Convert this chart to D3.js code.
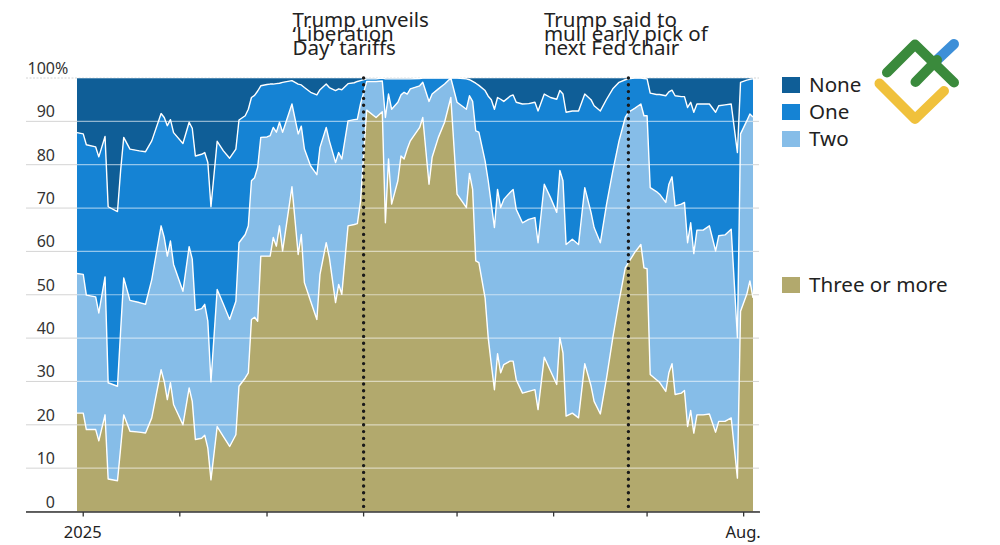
<!DOCTYPE html>
<html>
<head>
<meta charset="utf-8">
<script src="https://cdn.jsdelivr.net/npm/d3@7"></script>
<style>
  html, body { margin: 0; padding: 0; background: #fff; }
  svg { display: block; font-family: "Noto Sans", "Open Sans", sans-serif; }
</style>
</head>
<body>
<svg id="chart" width="1000" height="545"></svg>
<script>
// ---- Data (probability of number of Fed rate cuts by year-end, %) ----
const dates = [
  "2024-12-30","2025-01-01","2025-01-02","2025-01-05","2025-01-06","2025-01-08","2025-01-09","2025-01-12","2025-01-13","2025-01-14",
  "2025-01-16","2025-01-19","2025-01-21","2025-01-23","2025-01-26","2025-01-27","2025-01-28","2025-01-29","2025-01-30","2025-02-02",
  "2025-02-04","2025-02-05","2025-02-06","2025-02-08","2025-02-09","2025-02-10","2025-02-11","2025-02-13","2025-02-15","2025-02-17",
  "2025-02-19","2025-02-20","2025-02-22","2025-02-23","2025-02-24","2025-02-25","2025-02-26","2025-02-27","2025-03-01","2025-03-02",
  "2025-03-03","2025-03-04","2025-03-05","2025-03-06","2025-03-09","2025-03-11","2025-03-12","2025-03-13","2025-03-15","2025-03-17",
  "2025-03-18","2025-03-20","2025-03-21","2025-03-23","2025-03-24","2025-03-25","2025-03-27","2025-03-29","2025-03-30","2025-03-31",
  "2025-04-02","2025-04-05","2025-04-07","2025-04-08","2025-04-09","2025-04-10","2025-04-12","2025-04-13","2025-04-14","2025-04-15",
  "2025-04-16","2025-04-19","2025-04-20","2025-04-22","2025-04-23","2025-04-25","2025-04-27","2025-04-29","2025-05-01","2025-05-04",
  "2025-05-05","2025-05-06","2025-05-07","2025-05-08","2025-05-10","2025-05-11","2025-05-12","2025-05-13","2025-05-14","2025-05-15",
  "2025-05-16","2025-05-18","2025-05-19","2025-05-20","2025-05-22","2025-05-24","2025-05-26","2025-05-27","2025-05-29","2025-05-31",
  "2025-06-02","2025-06-03","2025-06-04","2025-06-05","2025-06-07","2025-06-09","2025-06-11","2025-06-13","2025-06-14","2025-06-16",
  "2025-06-18","2025-06-20","2025-06-22","2025-06-24","2025-06-25","2025-06-27","2025-06-29","2025-06-30","2025-07-01","2025-07-02",
  "2025-07-04","2025-07-05","2025-07-07","2025-07-08","2025-07-09","2025-07-10","2025-07-12","2025-07-13","2025-07-14","2025-07-15",
  "2025-07-16","2025-07-17","2025-07-19","2025-07-21","2025-07-23","2025-07-24","2025-07-26","2025-07-28","2025-07-30","2025-07-31",
  "2025-08-02","2025-08-03","2025-08-04"
];
const threeOrMore = [
  22.7,22.7,18.9,18.9,16.3,22.3,7.5,7.1,14.6,22.3,
  18.5,18.3,18.1,21.6,32.7,30.0,25.8,29.7,24.7,20.0,
  28.5,25.4,16.6,16.9,17.6,14.6,7.3,19.6,17.3,15.0,
  17.7,28.9,30.8,32.0,44.3,44.8,43.9,58.9,58.9,58.9,
  63.2,61.2,65.9,60.1,74.9,59.3,63.9,52.8,48.5,44.3,
  54.7,62.0,58.6,48.2,52.4,50.1,65.9,66.2,66.4,71.5,
  92.6,90.9,92.2,66.6,81.3,70.9,76.3,82.0,81.3,83.6,
  85.5,88.6,90.9,75.5,81.7,86.3,89.8,95.5,73.2,70.1,
  78.0,74.3,57.8,57.4,49.3,40.1,33.9,28.1,36.4,32.0,
  33.9,34.7,34.7,30.4,27.3,27.7,28.1,23.5,35.6,32.4,
  29.3,40.1,36.6,22.0,22.7,21.6,34.1,29.0,25.4,22.5,
  30.8,40.1,48.5,56.2,57.4,59.7,61.6,56.2,56.0,31.6,
  30.4,29.8,27.7,32.0,34.1,27.0,27.3,27.9,19.6,23.3,
  18.1,22.3,22.3,22.5,18.3,20.8,20.8,21.6,7.7,46.2,
  50.1,53.2,49.3
];
const two = [
  32.2,32.0,31.0,30.6,29.5,31.8,22.2,21.8,27.0,31.6,
  30.2,29.9,29.7,31.9,33.2,33.2,33.1,32.7,32.3,30.8,
  32.6,32.8,29.8,29.9,30.2,29.3,22.6,31.6,30.5,29.3,
  30.8,33.1,33.1,33.9,32.0,32.2,35.5,27.4,27.5,27.8,
  25.4,26.3,23.9,27.4,19.1,27.8,25.0,30.8,31.2,33.4,
  29.3,26.6,26.9,32.3,30.4,31.2,24.2,24.2,24.1,22.5,
  6.6,8.3,7.1,24.3,15.0,21.9,18.1,14.1,15.4,12.7,
  12.0,9.6,8.1,19.1,14.6,11.2,8.8,4.5,21.2,22.7,
  17.9,20.3,30.0,30.1,31.6,36.2,37.0,37.4,37.9,38.1,
  38.1,38.9,39.6,39.3,39.3,39.7,39.7,38.5,39.9,40.0,
  39.7,38.6,39.7,39.6,40.1,40.0,40.6,40.0,40.1,39.5,
  40.1,38.5,37.0,34.7,34.7,33.3,32.4,35.1,35.3,43.1,
  43.4,43.4,43.6,43.5,43.1,43.5,43.6,43.4,42.4,43.3,
  41.4,42.6,42.6,43.4,41.8,42.8,43.0,43.5,32.4,40.9,
  40.0,38.5,41.7
];
const one = [
  32.5,32.4,34.7,34.6,36.0,32.4,40.6,40.3,37.0,32.4,
  34.9,35.0,35.2,32.0,25.9,27.7,30.1,28.0,30.4,34.1,
  28.7,30.2,35.6,35.6,35.0,36.6,40.4,34.2,35.4,37.2,
  35.1,28.3,27.4,26.9,19.2,19.0,17.6,11.9,12.1,11.9,
  10.0,11.2,9.0,11.5,5.4,11.5,9.5,14.2,17.0,18.4,
  13.3,10.0,12.3,16.6,14.7,16.0,8.6,8.5,8.7,5.4,
  0.6,0.6,0.7,8.9,3.5,7.0,5.4,3.7,3.1,3.5,
  2.3,1.7,1.0,5.4,3.7,2.5,1.4,0.0,5.6,7.0,
  3.7,4.6,11.0,10.8,16.2,19.5,24.1,27.3,21.2,25.0,
  22.6,22.2,21.8,24.7,27.4,26.7,26.6,30.4,20.8,23.1,
  26.1,18.4,20.0,30.5,29.6,30.8,21.6,26.0,28.1,30.4,
  24.2,18.9,13.5,8.7,7.7,7.0,6.0,8.6,8.5,21.8,
  22.4,23.0,24.6,21.3,20.0,25.4,24.8,24.4,31.2,27.8,
  32.6,29.1,29.1,28.1,32.0,30.0,30.0,28.9,42.7,11.9,
  9.4,8.0,8.8
];
const none = [
  12.6,12.9,15.4,15.9,18.2,13.5,29.7,30.8,21.4,13.7,
  16.4,16.8,17.0,14.5,8.2,9.1,11.0,9.6,12.6,15.1,
  10.2,11.6,18.0,17.6,17.2,19.5,29.7,14.6,16.8,18.5,
  16.4,9.7,8.7,7.2,4.5,4.0,3.0,1.8,1.5,1.4,
  1.4,1.3,1.2,1.0,0.6,1.4,1.6,2.2,3.3,3.9,
  2.7,1.4,2.2,2.9,2.5,2.7,1.3,1.1,0.8,0.6,
  0.2,0.2,0.0,0.2,0.2,0.2,0.2,0.2,0.2,0.2,
  0.2,0.1,0.0,0.0,0.0,0.0,0.0,0.0,0.0,0.2,
  0.4,0.8,1.2,1.7,2.9,4.2,5.0,7.2,4.5,4.9,
  5.4,4.2,3.9,5.6,6.0,5.9,5.6,7.6,3.7,4.5,
  4.9,2.9,3.7,7.9,7.6,7.6,3.7,5.0,6.4,7.6,
  4.9,2.5,1.0,0.4,0.2,0.0,0.0,0.1,0.2,3.5,
  3.8,3.8,4.1,3.2,2.8,4.1,4.3,4.3,6.8,5.6,
  7.9,6.0,6.0,6.0,7.9,6.4,6.2,6.0,17.2,1.0,
  0.5,0.3,0.2
];
const seriesKeys = ["threeOrMore", "two", "one", "none"];
const seriesLabels = ["Three or more", "Two", "One", "None"];
const yTicks = [0, 10, 20, 30, 40, 50, 60, 70, 80, 90, 100];
const xDomain = ["2024-12-30", "2025-08-04"];
const monthTicks = ["2025-01-01","2025-02-01","2025-03-01","2025-04-01","2025-05-01","2025-06-01","2025-07-01","2025-08-01"];
const xTickLabels = { "2025-01-01": "2025", "2025-08-01": "Aug." };
const events = [
  { date: "2025-04-01", lines: ["Trump unveils", "\u2018Liberation", "Day\u2019 tariffs"] },
  { date: "2025-06-25", lines: ["Trump said to", "mull early pick of", "next Fed chair"] }
];

// ---- Drawing ----
const parse = d3.utcParse("%Y-%m-%d");
const rows = dates.map((d, i) => ({
  date: parse(d), threeOrMore: threeOrMore[i], two: two[i], one: one[i], none: none[i]
}));
const colors = { threeOrMore: "#b2a96d", two: "#86bde8", one: "#1583d4", none: "#0f5e97" };

const svg = d3.select("#chart");
const x = d3.scaleUtc().domain(xDomain.map(parse)).range([77, 753]);
const y = d3.scaleLinear().domain([0, 100]).range([511.5, 78]);

const stacked = d3.stack().keys(seriesKeys)(rows);

// gray gridlines (behind)
const gridG = svg.append("g");
yTicks.forEach(t => {
  gridG.append("line")
    .attr("x1", 26).attr("x2", 759)
    .attr("y1", y(t)).attr("y2", y(t))
    .attr("stroke", "#d4d4d4").attr("stroke-width", 1)
    .attr("stroke-dasharray", t === 100 ? "2,1.5" : null);
});

// areas
const area = d3.area().x(d => x(d.data.date)).y0(d => y(d[0])).y1(d => y(d[1]));
svg.append("g").selectAll("path").data(stacked).join("path")
  .attr("d", area)
  .attr("fill", s => colors[s.key]);

// gridlines over the plot
const gridTop = svg.append("g");
yTicks.filter(t => t > 0).forEach(t => {
  gridTop.append("line")
    .attr("x1", x.range()[0]).attr("x2", x.range()[1])
    .attr("y1", y(t)).attr("y2", y(t))
    .attr("stroke", "#ffffff").attr("stroke-opacity", 0.55).attr("stroke-width", 1.2);
});

// boundary lines
const line = d3.line().x(d => x(d.data.date)).y(d => y(d[1]));
svg.append("g").selectAll("path").data(stacked.slice(0, 3)).join("path")
  .attr("d", line)
  .attr("fill", "none").attr("stroke", "#ffffff").attr("stroke-width", 1.4)
  .attr("stroke-linejoin", "round");

// event dotted lines and notes
const noteOffsets = { "2025-04-01": 71, "2025-06-25": 84.5 };
events.forEach(ev => {
  const ex = x(parse(ev.date));
  svg.append("line")
    .attr("x1", ex).attr("x2", ex)
    .attr("y1", y(100)).attr("y2", y(0) - 4)
    .attr("stroke", "#1a1a1a").attr("stroke-width", 3.4)
    .attr("stroke-linecap", "round").attr("stroke-dasharray", "0,6.8");
  const t = svg.append("text")
    .attr("font-size", 20.5).attr("fill", "#222");
  ev.lines.forEach((l, i) => {
    t.append("tspan").attr("x", ex - noteOffsets[ev.date]).attr("y", 26.5 + i * 14.2).text(l);
  });
});

// y labels
const yLab = svg.append("g").attr("font-size", 16).attr("fill", "#333");
yTicks.forEach(t => {
  yLab.append("text").attr("x", 55).attr("y", y(t) - 4)
    .attr("text-anchor", "end").text(t);
  if (t === 100) {
    yLab.append("text").attr("x", 55).attr("y", y(t) - 4).text("%");
  }
});

// x axis
const axG = svg.append("g");
axG.append("line").attr("x1", 26).attr("x2", 760)
  .attr("y1", 512).attr("y2", 512).attr("stroke", "#333").attr("stroke-width", 1.7);
monthTicks.forEach(m => {
  const mx = x(parse(m));
  axG.append("line").attr("x1", mx).attr("x2", mx)
    .attr("y1", 512).attr("y2", 516.5).attr("stroke", "#333").attr("stroke-width", 1.3);
  if (xTickLabels[m]) {
    axG.append("text").attr("x", mx - 0.5).attr("y", 537.5)
      .attr("text-anchor", "middle").attr("font-size", 16.5).attr("fill", "#222")
      .text(xTickLabels[m]);
  }
});

// legend
const legendPos = { none: 77, one: 104, two: 131, threeOrMore: 277 };
const lg = svg.append("g");
seriesKeys.forEach((k, i) => {
  lg.append("rect").attr("x", 782).attr("y", legendPos[k]).attr("width", 18).attr("height", 16)
    .attr("fill", colors[k]);
  lg.append("text").attr("x", 809).attr("y", legendPos[k] + 15)
    .attr("font-size", 20.6).attr("fill", "#222").text(seriesLabels[i]);
});

// logo mark
const logo = svg.append("g").attr("fill", "none").attr("stroke-width", 10).attr("stroke-linecap", "round").attr("stroke-linejoin", "round");
logo.append("path").attr("d", "M937,60 L954,44").attr("stroke", "#3d8fd8");
logo.append("path").attr("d", "M887,72.5 L915,44.5 L954,82.5").attr("stroke", "#3a8a3c");
logo.append("path").attr("d", "M915.5,82 L937,60").attr("stroke", "#3a8a3c");
logo.append("path").attr("d", "M879.5,83.5 L915,119 L944,91").attr("stroke", "#f0c13c");
</script>
</body>
</html>
